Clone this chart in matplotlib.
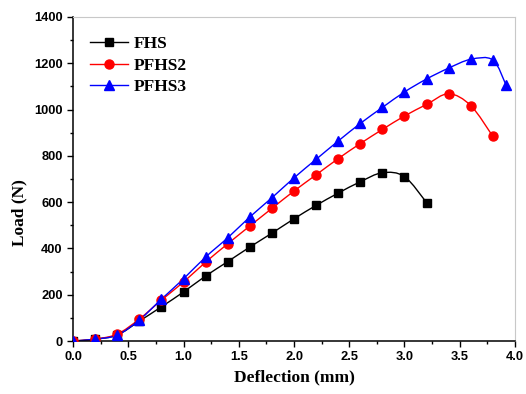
import matplotlib
matplotlib.use("Agg")
import matplotlib.pyplot as plt
import numpy as np
from matplotlib.path import Path
from matplotlib.patches import PathPatch
from matplotlib.lines import Line2D

fhs_x = [0.0, 0.2, 0.4, 0.6, 0.8, 1.0, 1.2, 1.4, 1.6, 1.8, 2.0, 2.2, 2.4, 2.6, 2.8, 3.0, 3.2]
fhs_y = [0, 8, 26, 86, 148, 212, 281, 343, 406, 466, 528, 586, 639, 688, 727, 710, 598]

pfhs2_x = [0.0, 0.2, 0.4, 0.6, 0.8, 1.0, 1.2, 1.4, 1.6, 1.8, 2.0, 2.2, 2.4, 2.6, 2.8, 3.0, 3.2, 3.4, 3.6, 3.8]
pfhs2_y = [0, 8, 30, 95, 177, 255, 341, 420, 497, 573, 648, 718, 788, 853, 914, 972, 1022, 1068, 1017, 884]

pfhs3_x = [0.0, 0.2, 0.4, 0.6, 0.8, 1.0, 1.2, 1.4, 1.6, 1.8, 2.0, 2.2, 2.4, 2.6, 2.8, 3.0, 3.2, 3.4, 3.6, 3.8, 3.92]
pfhs3_y = [0, 8, 26, 91, 181, 269, 363, 446, 536, 619, 705, 785, 864, 940, 1009, 1076, 1132, 1179, 1217, 1214, 1105]


def smooth_path(x, y):
    # Catmull-Rom -> cubic bezier through the data points
    x = np.asarray(x, float)
    y = np.asarray(y, float)
    verts = [(x[0], y[0])]
    codes = [Path.MOVETO]
    n = len(x)
    for i in range(n - 1):
        p0 = (x[max(i - 1, 0)], y[max(i - 1, 0)])
        p1 = (x[i], y[i])
        p2 = (x[i + 1], y[i + 1])
        p3 = (x[min(i + 2, n - 1)], y[min(i + 2, n - 1)])
        c1 = (p1[0] + (p2[0] - p0[0]) / 6, p1[1] + (p2[1] - p0[1]) / 6)
        c2 = (p2[0] - (p3[0] - p1[0]) / 6, p2[1] - (p3[1] - p1[1]) / 6)
        verts += [c1, c2, p2]
        codes += [Path.CURVE4] * 3
    return Path(verts, codes)


fig = plt.figure(figsize=(5.26, 3.94), dpi=100)
ax = fig.add_axes([0.139, 0.1345, 0.840, 0.8225])

series = [
    ("FHS", fhs_x, fhs_y, "black", "s", 5.5),
    ("PFHS2", pfhs2_x, pfhs2_y, "red", "o", 6.5),
    ("PFHS3", pfhs3_x, pfhs3_y, "blue", "^", 7.5),
]
handles = []
for name, xs, ys, col, mk, ms in series:
    ax.add_patch(PathPatch(smooth_path(xs, ys), facecolor="none", edgecolor=col, lw=1.0, zorder=2))
    ax.plot(xs, ys, ls="none", marker=mk, color=col, ms=ms, zorder=3)
    handles.append(Line2D([], [], color=col, lw=1.0, marker=mk, ms=ms))

ax.set_xlim(0, 4.0)
ax.set_ylim(0, 1400)
ax.set_xticks(np.arange(0, 4.01, 0.5))
ax.set_xticks(np.arange(0, 4.01, 0.25), minor=True)
ax.set_yticks(np.arange(0, 1401, 200))
ax.set_yticks(np.arange(0, 1401, 100), minor=True)
ax.set_xticklabels([f"{v:.1f}" for v in np.arange(0, 4.01, 0.5)])

for lab in ax.get_xticklabels() + ax.get_yticklabels():
    lab.set_fontfamily("Liberation Sans")
    lab.set_fontweight("bold")
    lab.set_fontsize(9.3)

ax.tick_params(which="major", direction="out", length=4, width=1, top=False, right=False)
ax.tick_params(which="minor", direction="out", length=2.5, width=1, top=False, right=False)
ax.spines["top"].set_color("#c8c8c8")
ax.spines["right"].set_color("#c8c8c8")
ax.spines["left"].set_linewidth(1.1)
ax.spines["bottom"].set_linewidth(1.1)

ax.set_xlabel("Deflection (mm)", fontfamily="Liberation Serif", fontweight="bold", fontsize=12.5)
ax.set_ylabel("Load (N)", fontfamily="Liberation Serif", fontweight="bold", fontsize=12.5)
ax.yaxis.set_label_coords(-0.104, 0.395)

ax.legend(handles, [s[0] for s in series], loc="upper left", frameon=False,
          prop={"family": "Liberation Serif", "weight": "bold", "size": 12.5},
          handlelength=2.2, labelspacing=0.3, bbox_to_anchor=(0.01, 0.978),
          borderaxespad=0.3, handletextpad=0.35)

fig.savefig("out.png", dpi=100)
